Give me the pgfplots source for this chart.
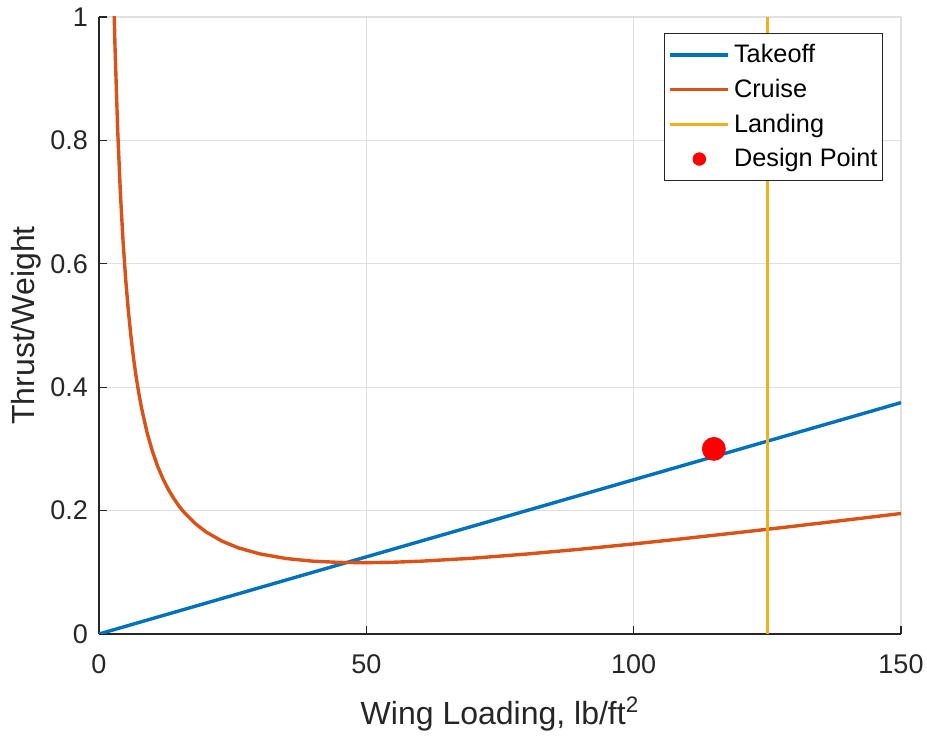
\documentclass[border=0pt]{standalone}
\usepackage{pgfplots}
\pgfplotsset{compat=1.18}
\usepackage{fontspec}
\setmainfont{Liberation Sans}
\definecolor{mblue}{rgb}{0,0.447,0.741}
\definecolor{morange}{rgb}{0.85,0.325,0.098}
\definecolor{myellow}{rgb}{0.929,0.694,0.125}
\definecolor{axgray}{rgb}{0.15,0.15,0.15}
\definecolor{gridgray}{rgb}{0.88,0.88,0.88}
\begin{document}
\begin{tikzpicture}
\begin{axis}[
  scale only axis, width=401pt, height=308.5pt,
  xmin=0, xmax=150, ymin=0, ymax=1,
  axis x line*=bottom, axis y line*=left,
  xtick={0,50,100,150}, ytick={0,0.2,0.4,0.6,0.8,1},
  tick align=inside, major tick length=4pt,
  grid=major, major grid style={color=gridgray, line width=0.6pt},
  axis line style={color=axgray, line width=0.6pt},
  tick style={color=axgray, line width=0.6pt},
  tick label style={font=\fontsize{13.5}{16}\selectfont, color=axgray},
  /pgf/number format/assume math mode=true,
  xticklabel style={anchor=base, inner sep=0pt, yshift=-20pt},
  yticklabel style={anchor=east, inner sep=0pt, xshift=-5.3pt},
  xlabel={Wing Loading, lb/ft\textsuperscript{2}},
  ylabel={Thrust/Weight},
  label style={font=\fontsize{16}{19}\selectfont, color=axgray},
  xlabel style={at={(rel axis cs:0.5,0)}, anchor=base, inner sep=0pt, yshift=-45.5pt},
  ylabel style={at={(rel axis cs:0,0.5)}, anchor=base, inner sep=0pt, yshift=32pt},
  legend style={at={(rel axis cs:1,1)}, anchor=north east, xshift=-9pt, yshift=-8pt,
    draw=axgray, line width=0.5pt, fill=white,
    font=\fontsize{12.65}{15}\selectfont, row sep=2.65pt,
    inner xsep=0.5pt, inner ysep=3.5pt},
  legend cell align=left,
  legend image code/.code={\path[draw=none,fill=none] (0pt,0pt) -- (2.5pt,0pt); \draw[#1] (2.5pt,0pt) -- (31.5pt,0pt);},
]
\addplot[mblue, line width=1.7pt] coordinates {(0,0) (150,0.375)};
\addlegendentry{Takeoff}
\addplot[morange, line width=1.7pt] coordinates {
(2.8,1.0176) (3,0.9502) (3.5,0.8155) (4,0.7147) (4.5,0.6364) (5,0.5739)
(5.5,0.5229) (6,0.4804) (6.5,0.4445) (7,0.4139) (7.5,0.3875) (8,0.3644)
(9,0.3262) (10,0.2958) (11,0.2711) (12,0.2508) (13,0.2338) (14,0.2194)
(15,0.2069) (16,0.1963) (18,0.1790) (20,0.1655) (23,0.1505) (26,0.1398)
(30,0.1300) (35,0.1223) (40,0.1180) (45,0.1160) (50,0.1156) (55,0.1163)
(60,0.1179) (70,0.1229) (80,0.1296) (90,0.1374) (100,0.1460) (110,0.1552)
(120,0.1648) (130,0.1747) (140,0.1849) (150,0.1953)};
\addlegendentry{Cruise}
\addplot[myellow, line width=1.7pt] coordinates {(125,0) (125,1)};
\addlegendentry{Landing}
\addplot[only marks, mark=*, mark size=5.75pt, color=red,
  legend image code/.code={\path[draw=none,fill=none] (0pt,0pt) -- (31.5pt,0pt); \fill[red] (17pt,0pt) circle (3.1pt);}]
  coordinates {(115,0.3)};
\addlegendentry{Design Point}
\coordinate (ll) at (rel axis cs:0,0);
\coordinate (ur) at (rel axis cs:1,1);
\end{axis}
\pgfresetboundingbox
\path[use as bounding box] ([shift={(-49.5pt,-51.5pt)}]ll) rectangle ([shift={(13pt,8.5pt)}]ur);
\end{tikzpicture}
\end{document}
